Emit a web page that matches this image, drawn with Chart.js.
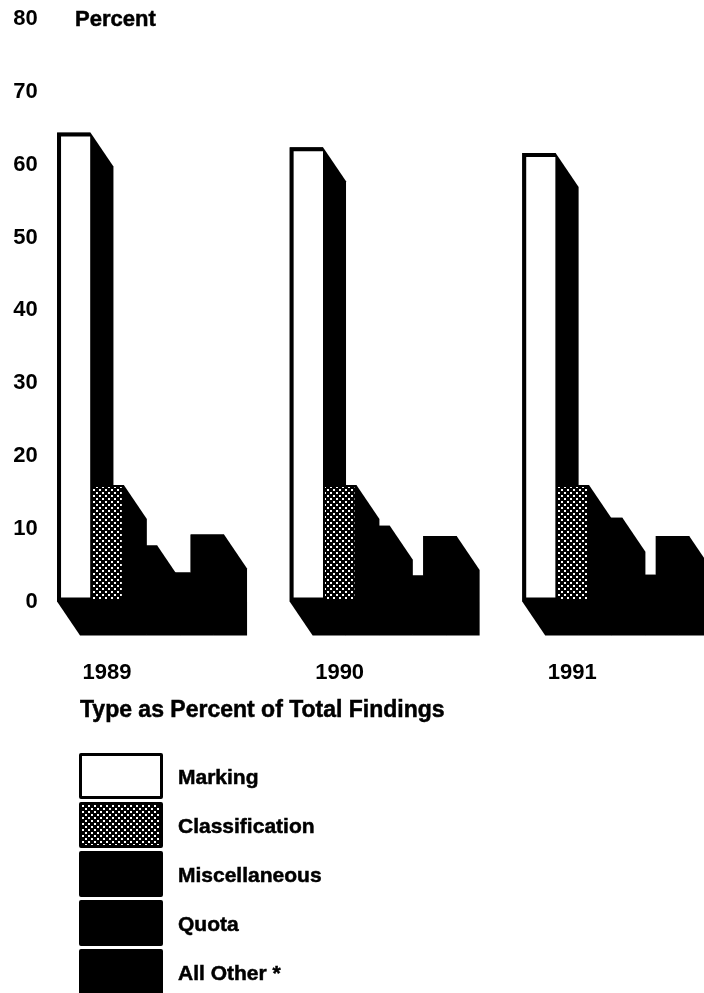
<!DOCTYPE html>
<html>
<head>
<meta charset="utf-8">
<title>Type as Percent of Total Findings</title>
<script src="https://cdn.jsdelivr.net/npm/chart.js@4"></script>
<style>
    html, body { margin: 0; padding: 0; background: #fff; }
    #page {
        position: relative;
        width: 704px;
        height: 993px;
        overflow: hidden;
        font-family: "Liberation Sans", Arial, sans-serif;
        font-weight: bold;
        font-size: 21px;
        color: #000;
        -webkit-text-stroke: 0.5px #000;
        filter: blur(0.6px);
    }
    #findingsChart { position: absolute; left: 0; top: 0; }
    .caption { position: absolute; white-space: nowrap; line-height: 24px; }
    .swatch {
        position: absolute;
        left: 79px;
        width: 84px;
        height: 46px;
        box-sizing: border-box;
        border: 3px solid #000;
        border-radius: 2px;
    }
    .legend-label { position: absolute; left: 178px; white-space: nowrap; line-height: 24px; }
</style>
</head>
<body>
<div id="page">
    <canvas id="findingsChart" width="722" height="744"></canvas>
    <div class="caption" style="left:75px; top:7px; font-size:22px;">Percent</div>
    <div class="caption" style="left:80px; top:697px; font-size:23px;">Type as Percent of Total Findings</div>
    <div id="legend"></div>
</div>
<script>
// Values
const years = ['1989', '1990', '1991'];
const typeNames = ['Marking', 'Classification', 'Miscellaneous', 'Quota', 'All Other *'];
const marking = [64.4, 62.4, 61.6];
const classification = [16, 16, 16];
const miscellaneous = [7.7, 10.4, 11.5];
const quota = [4, 3.6, 3.7];
const allOther = [9.2, 9, 9];

// Depth of the fake 3D extrusion, down and to the right of the front face
const DEPTH_X = 23;
const DEPTH_Y = 34;

function makeHalftone() {
    const tile = document.createElement('canvas');
    tile.width = 6;
    tile.height = 6;
    const c = tile.getContext('2d');
    c.fillStyle = '#000';
    c.fillRect(0, 0, 6, 6);
    c.fillStyle = '#fff';
    c.fillRect(0, 0, 2, 2);
    c.fillRect(3, 3, 2, 2);
    return tile;
}

const halftone = makeHalftone();
const ctx = document.getElementById('findingsChart').getContext('2d');
const halftoneFill = ctx.createPattern(halftone, 'repeat');

const extrusionPlugin = {
    id: 'extrusion',
    beforeDatasetsDraw(chart) {
        const c = chart.ctx;
        c.save();
        c.fillStyle = '#000';
        chart.data.datasets.forEach((ds, i) => {
            chart.getDatasetMeta(i).data.forEach(bar => {
                const p = bar.getProps(['x', 'y', 'base', 'width'], true);
                const l = p.x - p.width / 2;
                const r = p.x + p.width / 2;
                c.beginPath();
                c.moveTo(l, p.y);
                c.lineTo(r, p.y);
                c.lineTo(r + DEPTH_X, p.y + DEPTH_Y);
                c.lineTo(r + DEPTH_X, p.base + DEPTH_Y);
                c.lineTo(l + DEPTH_X, p.base + DEPTH_Y);
                c.lineTo(l, p.base);
                c.closePath();
                c.fill();
            });
        });
        c.restore();
    }
};

function barSeries(label, data, fill, borderWidth, skipped) {
    return {
        label: label,
        data: data,
        backgroundColor: fill,
        borderColor: '#000',
        borderWidth: borderWidth,
        borderSkipped: skipped,
        clip: false,
        categoryPercentage: 0.718,
        barPercentage: 1
    };
}

new Chart(ctx, {
    type: 'bar',
    data: {
        labels: years,
        datasets: [
            barSeries(typeNames[0], marking, '#fff', 4, 'right'),
            barSeries(typeNames[1], classification, halftoneFill, 2, false),
            barSeries(typeNames[2], miscellaneous, '#000', 0, false),
            barSeries(typeNames[3], quota, '#000', 0, false),
            barSeries(typeNames[4], allOther, '#000', 0, false)
        ]
    },
    options: {
        responsive: false,
        animation: false,
        layout: { padding: { top: 19, right: 0, bottom: 0, left: 0 } },
        plugins: {
            legend: { display: false },
            title: { display: false },
            tooltip: { enabled: false }
        },
        scales: {
            x: {
                grid: { display: false, drawTicks: false },
                border: { display: false },
                ticks: {
                    color: '#000',
                    font: { family: '"Liberation Sans"', size: 22, weight: 'bold' },
                    padding: 58,
                    labelOffset: -33.5,
                    maxRotation: 0,
                    autoSkip: false
                }
            },
            y: {
                min: 0,
                max: 80,
                afterFit(scale) { scale.width = 24.25; },
                grid: { display: false, drawTicks: false },
                border: { display: false },
                ticks: {
                    stepSize: 10,
                    color: '#000',
                    font: { family: '"Liberation Sans"', size: 22, weight: 'bold' },
                    mirror: true,
                    padding: -11,
                    // mirrored labels are left aligned, a figure space keeps the digits in column
                    callback: v => (v === 0 ? '\u2007' + v : v)
                }
            }
        }
    },
    plugins: [extrusionPlugin]
});

// Legend, built from the same names
const legend = document.getElementById('legend');
typeNames.forEach((name, i) => {
    const top = 753 + i * 49;
    const box = document.createElement('div');
    box.className = 'swatch';
    box.style.top = top + 'px';
    if (i === 0) box.style.background = '#fff';
    else if (i === 1) box.style.backgroundImage = `url(${halftone.toDataURL()})`;
    else box.style.background = '#000';
    legend.appendChild(box);

    const text = document.createElement('div');
    text.className = 'legend-label';
    text.style.top = (top + 12) + 'px';
    text.textContent = name;
    legend.appendChild(text);
});
</script>
</body>
</html>
